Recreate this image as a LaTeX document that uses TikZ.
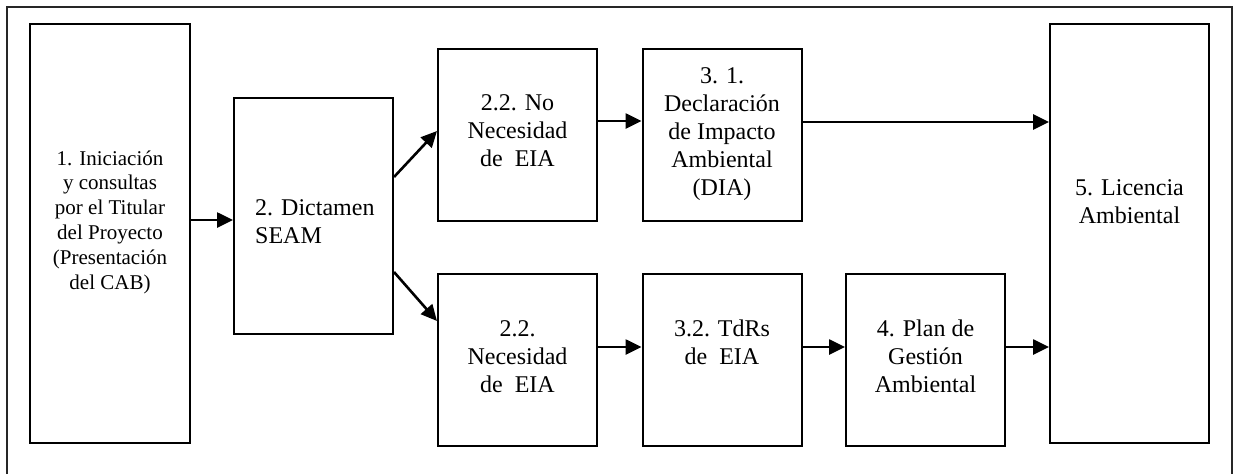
\documentclass[tikz,border=0pt]{standalone}
\usepackage{fontspec}
\setmainfont{Liberation Serif}
\usetikzlibrary{arrows.meta,calc}
\begin{document}
\begin{tikzpicture}[x=1pt,y=-1pt,
  box/.style={draw,line width=2pt,rectangle,inner sep=0pt,minimum width=159pt},
  txt/.style={inner sep=0pt,anchor=base,font=\fontsize{24}{28}\selectfont},
  smalltxt/.style={inner sep=0pt,anchor=base,font=\fontsize{21}{24.8}\selectfont},
  arr/.style={-{Triangle[length=16pt,width=15pt]},line width=2.6pt},
  frame/.style={line width=1.5pt,black!85}]
\useasboundingbox (0,0) rectangle (1236,474);
% outer frame (open at bottom)
\coordinate (fbl) at (7,474);
\coordinate (ftl) at (7,7);
\coordinate (ftr) at (1232,7);
\coordinate (fbr) at (1232,474);
\draw[frame] (fbl) -- (ftl) -- (ftr) -- (fbr);
% boxes
\node[box,minimum width=160pt,minimum height=419pt] (b1) at (110,233.5) {};
\node[box,minimum height=236pt] (b2) at (313.5,216) {};
\node[box,minimum height=172pt] (bno) at (517.5,135) {};
\node[box,minimum height=172pt] (b31) at (722,135) {};
\node[box,minimum height=172pt] (bnec) at (517.5,360) {};
\node[box,minimum height=172pt] (b32) at (722,360) {};
\node[box,minimum height=172pt] (b4) at (925.5,360) {};
\node[box,minimum height=419pt] (b5) at (1129.5,233.5) {};
% texts
\node[smalltxt] (t1) at (110,165) {\begin{tabular}[t]{@{}c@{}}1. Iniciación\\y consultas\\por el Titular\\del Proyecto\\(Presentación\\del CAB)\end{tabular}};
\node[txt,anchor=base west] (t2) at (255,215) {\begin{tabular}[t]{@{}l@{}}2. Dictamen\\SEAM\end{tabular}};
\node[txt] (tno) at (517.5,110) {\begin{tabular}[t]{@{}c@{}}2.2. No\\Necesidad\\de\ \ EIA\end{tabular}};
\node[txt] (t31) at (722,83) {\begin{tabular}[t]{@{}c@{}}3. 1.\\Declaración\\de Impacto\\Ambiental\\(DIA)\end{tabular}};
\node[txt] (tnec) at (517.5,336) {\begin{tabular}[t]{@{}c@{}}2.2.\\Necesidad\\de\ \ EIA\end{tabular}};
\node[txt] (t32) at (722,336) {\begin{tabular}[t]{@{}c@{}}3.2. TdRs\\de\ \ EIA\end{tabular}};
\node[txt] (t4) at (925.5,336) {\begin{tabular}[t]{@{}c@{}}4. Plan de\\Gestión\\Ambiental\end{tabular}};
\node[txt] (t5) at (1129.5,195) {\begin{tabular}[t]{@{}c@{}}5. Licencia\\Ambiental\end{tabular}};
% connector end points
\coordinate (a1e) at ($(b2.west)+(0,4)$);
\coordinate (d1s) at ($(b2.north east)+(0,80)$);
\coordinate (d1e) at ($(bno.west)+(0,-4)$);
\coordinate (d2s) at ($(b2.north east)+(0,175)$);
\coordinate (d2e) at ($(bnec.north west)+(0,48)$);
\coordinate (u1s) at ($(bno.east)+(0,-14)$);
\coordinate (u2s) at ($(b31.east)+(0,-13)$);
\coordinate (l1s) at ($(bnec.east)+(0,-13)$);
\coordinate (l2s) at ($(b32.east)+(0,-13)$);
\coordinate (l3s) at ($(b4.east)+(0,-13)$);
% connectors
\draw[arr] (b1.east |- a1e) -- (a1e);
\draw[arr] (d1s) -- (d1e);
\draw[arr] (d2s) -- (d2e);
\draw[arr] (u1s) -- (b31.west |- u1s);
\draw[arr] (u2s) -- (b5.west |- u2s);
\draw[arr] (l1s) -- (b32.west |- l1s);
\draw[arr] (l2s) -- (b4.west |- l2s);
\draw[arr] (l3s) -- (b5.west |- l3s);
\end{tikzpicture}
\end{document}
